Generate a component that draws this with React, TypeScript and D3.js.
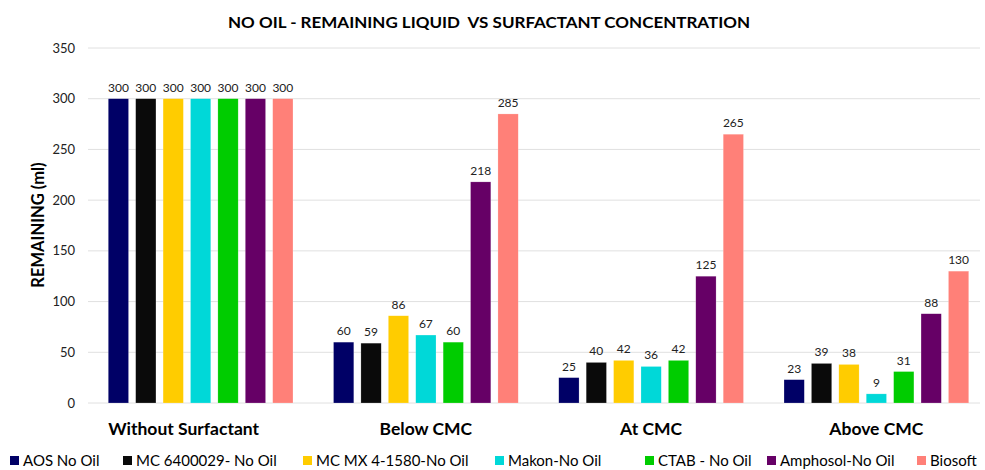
import React from "react";
import * as d3 from "d3";

const categories = ["Without Surfactant", "Below CMC", "At CMC", "Above CMC"];
const seriesNames = [
  "AOS No Oil",
  "MC 6400029- No Oil",
  "MC MX 4-1580-No Oil",
  "Makon-No Oil",
  "CTAB - No Oil",
  "Amphosol-No Oil",
  "Biosoft",
];
const seriesColors = ["#000066", "#0a0a0a", "#ffcc00", "#00d8d8", "#00cc00", "#660066", "#ff8078"];
const aos = [300, 60, 25, 23];
const mc64 = [300, 59, 40, 39];
const mcmx = [300, 86, 42, 38];
const makon = [300, 67, 36, 9];
const ctab = [300, 60, 42, 31];
const amphosol = [300, 218, 125, 88];
const biosoft = [300, 285, 265, 130];
const seriesValues = [aos, mc64, mcmx, makon, ctab, amphosol, biosoft];
const yTicks = [0, 50, 100, 150, 200, 250, 300, 350];

// layout constants
const legendX = [10, 123, 303, 495, 645, 767, 917];
const catLabelShift = [-17, 0, 0, 0];

const W = 985;
const H = 470;
const FONT = "Lato, 'Open Sans', sans-serif";

export default function App() {
  const x0 = d3.scaleBand<string>().domain(categories).range([88, 989]).paddingInner(0.18).paddingOuter(0.09);
  const x1 = d3.scaleBand<string>().domain(seriesNames).range([0, x0.bandwidth()]).paddingInner(0.26);
  const y = d3.scaleLinear().domain([0, 350]).range([403, 48]);

  return (
    <svg width={W} height={H} style={{ position: "absolute", left: 0, top: 0, background: "#fff" }} fontFamily={FONT}>
      <rect width={W} height={H} fill="#fff" />
      <text x={489} y={28} textAnchor="middle" fontSize={16} fontWeight={700} fill="#000" textLength={522} lengthAdjust="spacingAndGlyphs" xmlSpace="preserve" style={{ whiteSpace: "pre" }}>
        {"NO OIL - REMAINING LIQUID  VS SURFACTANT CONCENTRATION"}
      </text>
      {yTicks.map((t) => (
        <g key={t}>
          <line x1={88} x2={980} y1={y(t)} y2={y(t)} stroke="#e0e0e0" strokeWidth={1} />
          <text x={75} y={y(t)} dy="0.35em" textAnchor="end" fontSize={13} fill="#222">
            {t}
          </text>
        </g>
      ))}
      <text transform={`translate(44,225) rotate(-90)`} textAnchor="middle" fontSize={16.5} fontWeight={700} fill="#000">
        REMAINING (ml)
      </text>
      {categories.map((c, ci) => (
        <g key={c} transform={`translate(${x0(c)},0)`}>
          {seriesNames.map((s, si) => {
            const v = seriesValues[si][ci];
            const bx = x1(s)!;
            return (
              <g key={s}>
                <rect x={bx} y={y(v)} width={x1.bandwidth()} height={y(0) - y(v)} fill={seriesColors[si]} stroke="#fff" strokeOpacity={0.4} strokeWidth={0.5} />
                <text x={bx + x1.bandwidth() / 2} y={y(v) - 7} textAnchor="middle" fontSize={12} fill="#222">
                  {v}
                </text>
              </g>
            );
          })}
          <text x={x0.bandwidth() / 2 + catLabelShift[ci]} y={435} textAnchor="middle" fontSize={17.5} fontWeight={700} fill="#000">
            {c}
          </text>
        </g>
      ))}
      {seriesNames.map((s, si) => (
        <g key={s} transform={`translate(${legendX[si]},461)`}>
          <rect x={0} y={-5} width={9} height={9} fill={seriesColors[si]} />
          <text x={13} y={0} dy="0.35em" fontSize={15} fill="#000">
            {s}
          </text>
        </g>
      ))}
    </svg>
  );
}
